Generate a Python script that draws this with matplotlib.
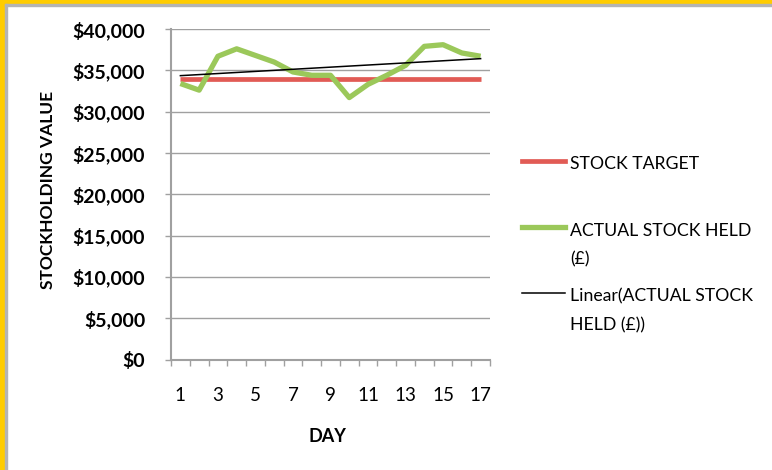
import numpy as np
import matplotlib.pyplot as plt
from matplotlib.lines import Line2D
from matplotlib.patches import Rectangle
from matplotlib.ticker import FuncFormatter

plt.rcParams['font.family'] = ['Lato', 'DejaVu Sans']

days = list(range(1, 18))
stock_target = [34000] * 17
actual_stock = [33400, 32600, 36700, 37600, 36800, 36000, 34800, 34400, 34400,
                31700, 33300, 34400, 35600, 37900, 38100, 37100, 36700]
day_labels = [str(d) for d in days[::2]]

RED = '#E15B55'
GREEN = '#9BC85A'
GREY = '#a0a0a0'

W, H = 772, 470
fig = plt.figure(figsize=(W / 100, H / 100), dpi=100)
ax = fig.add_axes([171 / W, 1 - 359.5 / H, 319 / W, 330.5 / H])

# linear trend of the actual stock
slope, icept = np.polyfit(days, actual_stock, 1)
trend = [slope * d + icept for d in days]

ax.plot(days, stock_target, color=RED, lw=3.4, solid_capstyle='butt', zorder=3)
ax.plot(days, actual_stock, color=GREEN, lw=3.8, solid_joinstyle='round',
        solid_capstyle='butt', zorder=4)
ax.plot(days, trend, color='black', lw=1.1, zorder=5)

ax.set_xlim(0.5, 17.5)
ax.set_ylim(0, 40000)
ax.set_yticks(range(0, 40001, 5000))
ax.yaxis.set_major_formatter(FuncFormatter(lambda v, p: f'${v:,.0f}'))
ax.grid(axis='y', color=GREY, lw=1)
ax.set_axisbelow(True)

# tick marks sit between days, labels on every other day
ax.set_xticks(np.arange(0.5, 18, 1))
ax.set_xticklabels([])
ax.set_xticks(days[::2], minor=True)
ax.set_xticklabels(day_labels, minor=True)
ax.tick_params(axis='x', which='major', length=4.5, color=GREY, width=1)
ax.tick_params(axis='x', which='minor', length=0, pad=20, labelsize=13.5)
ax.tick_params(axis='y', length=4.5, color=GREY, width=1, pad=14, labelsize=14)
for lbl in ax.get_yticklabels():
    lbl.set_fontweight('bold')

for s in ['top', 'right']:
    ax.spines[s].set_visible(False)
for s in ['left', 'bottom']:
    ax.spines[s].set_color(GREY)
    ax.spines[s].set_linewidth(1.5)

fig.text(48 / W, 1 - 190 / H, 'STOCKHOLDING VALUE', rotation=90,
         ha='center', va='center', fontweight='bold', fontsize=12.5)
fig.text(327 / W, 1 - 437 / H, 'DAY', ha='center', va='center',
         fontweight='bold', fontsize=13)

# legend on the right, one text row every 29 px
legend = [
    (['STOCK TARGET'], RED, 3.4, 161),
    (['ACTUAL STOCK HELD', '(£)'], GREEN, 3.8, 227),
    (['Linear(ACTUAL STOCK', 'HELD (£))'], 'black', 1.1, 293),
]
for rows, color, lw, y in legend:
    fig.add_artist(Line2D([522 / W, 565 / W], [1 - y / H] * 2,
                          transform=fig.transFigure, color=color, lw=lw))
    for i, row in enumerate(rows):
        base = y + 2 + 6.5 + 29 * i
        fig.text(570 / W, 1 - base / H, row, ha='left', va='baseline',
                 fontsize=12.7)

# frame strips along the left and top edges
fig.patches.append(Rectangle((0, 0), 5 / W, 1, transform=fig.transFigure,
                             color='#FFCC00', zorder=10))
fig.patches.append(Rectangle((0, 1 - 4 / H), 1, 4 / H, transform=fig.transFigure,
                             color='#FFCC00', zorder=10))
fig.patches.append(Rectangle((5 / W, 0), 2 / W, 1 - 4 / H, transform=fig.transFigure,
                             color='#b4b4b4', zorder=10))
fig.patches.append(Rectangle((5 / W, 1 - 6 / H), 1, 2 / H, transform=fig.transFigure,
                             color='#b4b4b4', zorder=10))

fig.savefig('out.png', dpi=100)
